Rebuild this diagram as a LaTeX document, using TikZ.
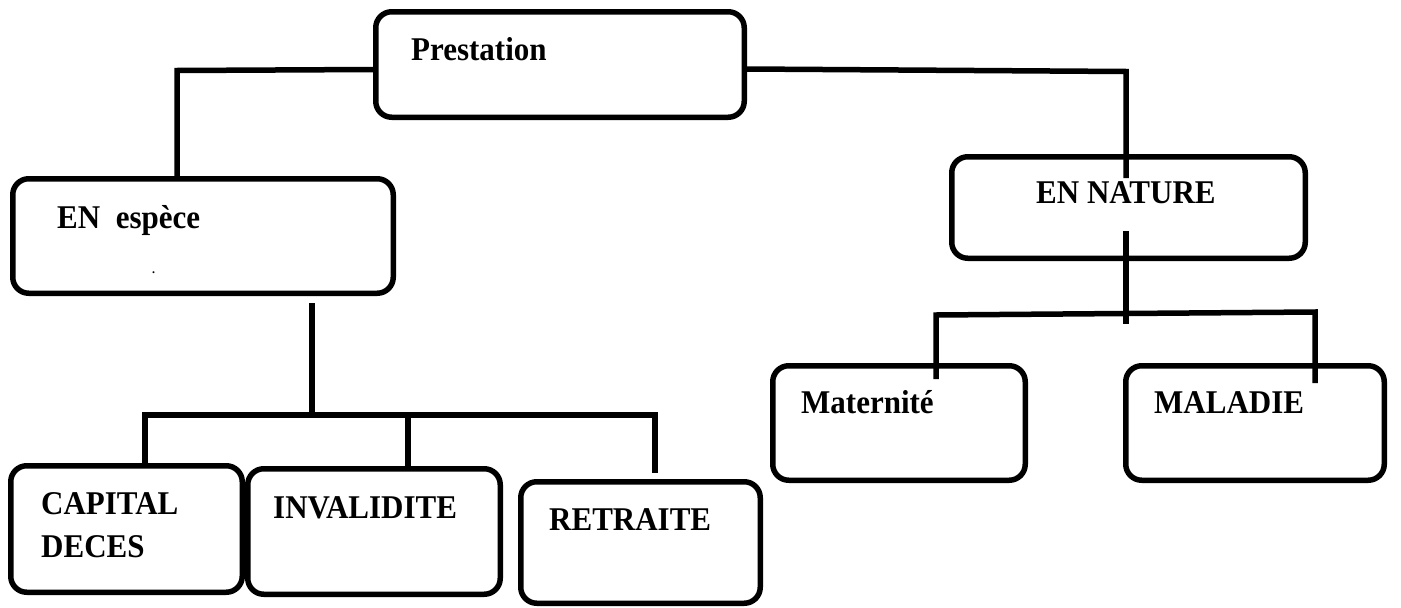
\documentclass[tikz,border=0pt]{standalone}
\usepackage{fontspec}
\setmainfont{Liberation Serif}
\usetikzlibrary{calc}
\newcommand{\vstretch}[1]{\scalebox{1}[1.07]{#1}}
\begin{document}
\begin{tikzpicture}[x=1pt,y=-1pt,
  box/.style={draw=black, line width=5.5pt, rounded corners=16pt, inner sep=0pt, fill=white},
  conn/.style={draw=black, line width=5.5pt},
  lbl/.style={anchor=base west, inner sep=0pt, font=\bfseries\fontsize{31}{43}\selectfont}]
\useasboundingbox[fill=white] (0,0) rectangle (1401,608);

% junction coordinates
\coordinate (pl) at (177,70.5);
\coordinate (pr) at (1126,71.5);
\coordinate (nin) at (1126,178);
\coordinate (nout) at (1126,231);
\coordinate (nj) at (1126,324);
\coordinate (mj) at (936,315);
\coordinate (mdj) at (1315,312);
\coordinate (mat) at (936,379);
\coordinate (mal) at (1315,383);
\coordinate (eout) at (312,303);
\coordinate (ej) at (312,415);
\coordinate (cj) at (145,415);
\coordinate (rj) at (655,415);
\coordinate (ij) at (408,415);
\coordinate (ret) at (655,473);

% boxes
\node[box, minimum width=368.5pt, minimum height=105.5pt] (P) at (560,64.5) {};
\node[box, minimum width=380.5pt, minimum height=114.5pt] (E) at (203,236) {};
\node[box, minimum width=353.5pt, minimum height=101.5pt] (N) at (1128.5,207.5) {};
\node[box, minimum width=252.5pt, minimum height=114.5pt] (Mat) at (899,423) {};
\node[box, minimum width=258.5pt, minimum height=114.5pt] (Mal) at (1255,423) {};
\node[box, minimum width=231.5pt, minimum height=126.5pt] (C) at (126.5,529) {};
\node[box, minimum width=252.5pt, minimum height=125.5pt] (I) at (374,531.5) {};
\node[box, minimum width=239.5pt, minimum height=121.5pt] (R) at (640.5,542.5) {};

% connectors
\draw[conn] (P.west |- 0,69.5) -- (pl) -- (pl |- E.north);
\draw[conn] (P.east |- 0,69) -- (pr) -- (nin);
\draw[conn] (nout) -- (nj);
\draw[conn] (mat) -- (mj) -- (mdj) -- (mal);
\draw[conn] (eout) -- (ej);
\draw[conn] (cj |- C.north) -- (cj) -- (rj) -- (ret);
\draw[conn] (ij) -- (ij |- I.north);

% labels
\node[lbl] (tP) at (411,60.5) {\vstretch{Prestation}};
\node[lbl] (tE) at (57,228) {\vstretch{EN\ \ espèce}};
\node[anchor=base west, inner sep=0pt, font=\bfseries\fontsize{12}{12}\selectfont] (tdot) at (152,273) {.};
\node[lbl] (tN) at (1036,203) {\vstretch{EN NATURE}};
\node[lbl] (tMat) at (801,413) {\vstretch{Maternité}};
\node[lbl] (tMal) at (1154,413) {\vstretch{MALADIE}};
\node[lbl] (tC1) at (41,514) {\vstretch{CAPITAL}};
\node[lbl] (tC2) at (41,557) {\vstretch{DECES}};
\node[lbl] (tI) at (273,518) {\vstretch{INVALIDITE}};
\node[lbl] (tR) at (549,530) {\vstretch{RETRAITE}};
\end{tikzpicture}
\end{document}
